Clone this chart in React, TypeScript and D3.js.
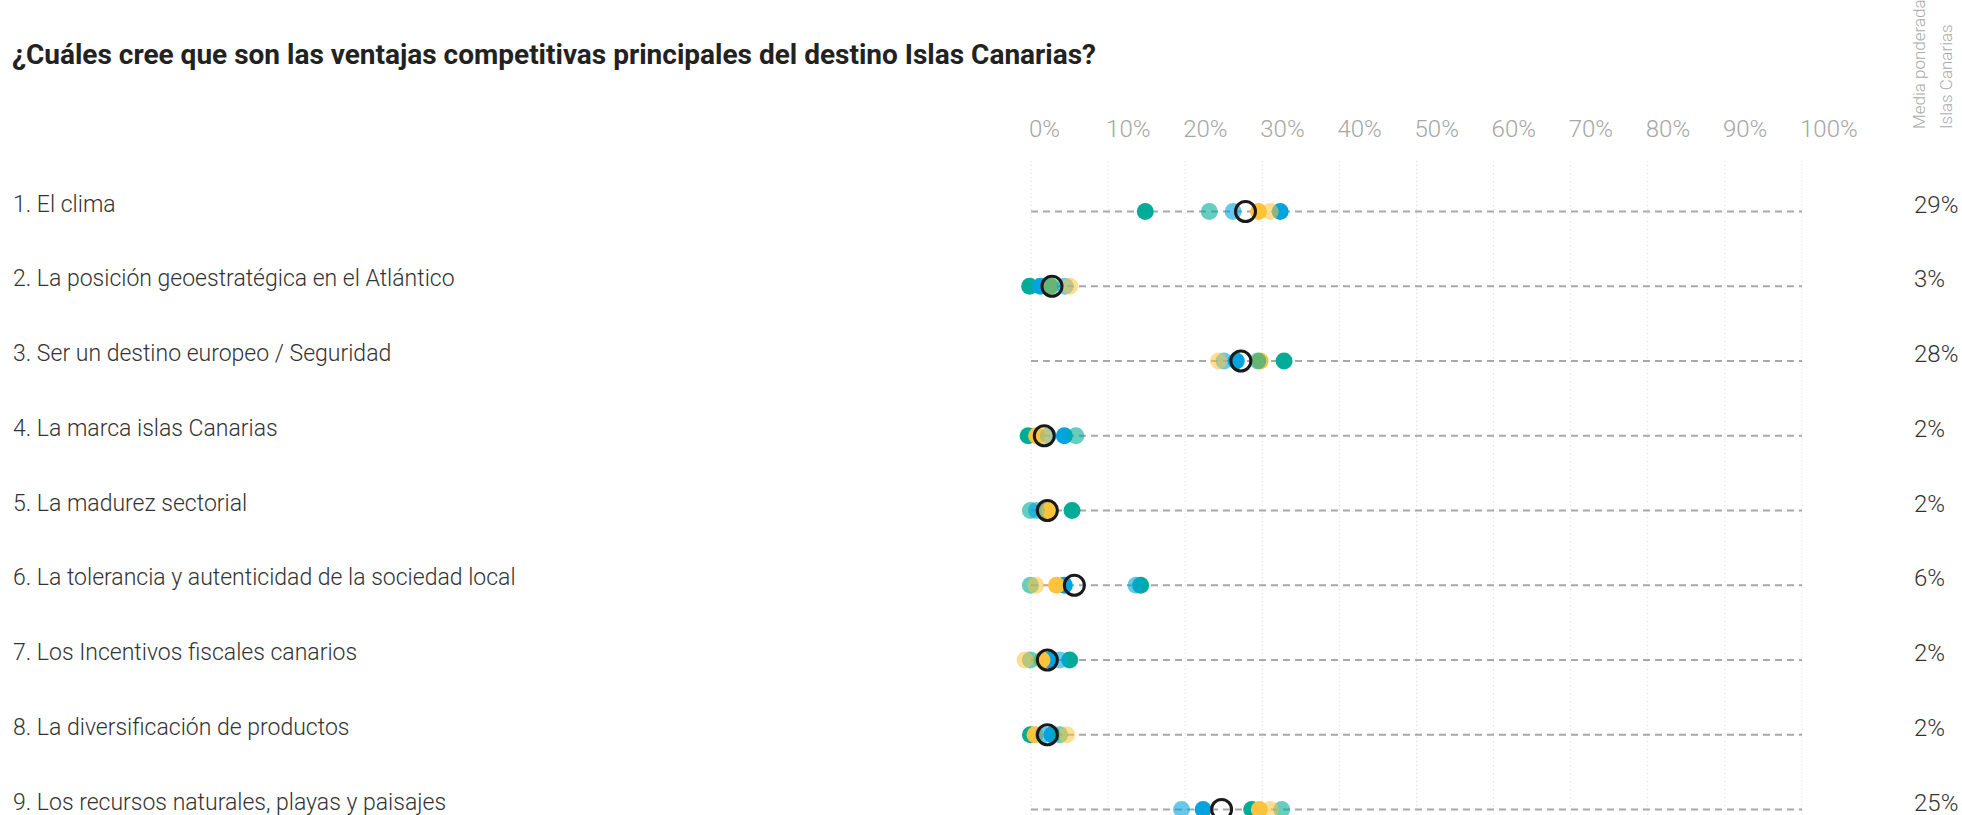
import React from "react";
import * as d3 from "d3";

const categories = [
  "1. El clima",
  "2. La posición geoestratégica en el Atlántico",
  "3. Ser un destino europeo / Seguridad",
  "4. La marca islas Canarias",
  "5. La madurez sectorial",
  "6. La tolerancia y autenticidad de la sociedad local",
  "7. Los Incentivos fiscales canarios",
  "8. La diversificación de productos",
  "9. Los recursos naturales, playas y paisajes",
];

const weightedLabels = ["29%", "3%", "28%", "2%", "2%", "6%", "2%", "2%", "25%"];
const weightedMean = [28.6, 3.5, 28.0, 2.5, 2.9, 6.4, 2.9, 2.9, 25.5];

// one value per category
const tealSolid = [15.6, 0.6, 33.6, 0.4, 6.1, 15.0, 5.8, 0.7, 29.4];
const blueSolid = [33.1, 2.0, 27.4, 5.1, 2.4, 5.1, 3.2, 3.5, 23.1];
const yellowSolid = [30.3, 3.2, 30.5, 1.5, 3.2, 4.1, 2.2, 1.3, 30.4];
const tealLight = [23.9, 3.4, 30.2, 6.6, 0.7, 0.7, 0.7, 4.5, 33.3];
const blueLight = [27.0, 5.2, 25.8, 3.0, 1.5, 14.4, 4.5, 2.4, 20.3];
const yellowLight = [31.8, 5.8, 25.1, 2.4, 2.8, 1.4, 0.0, 5.4, 31.8];

const tickValues = [0, 10, 20, 30, 40, 50, 60, 70, 80, 90, 100];

const series = [
  { key: "tealSolid", values: tealSolid, color: "#00ac98", opacity: 1 },
  { key: "blueSolid", values: blueSolid, color: "#00a5df", opacity: 1 },
  { key: "yellowSolid", values: yellowSolid, color: "#ffc33b", opacity: 1 },
  { key: "tealLight", values: tealLight, color: "#00ac98", opacity: 0.6 },
  { key: "blueLight", values: blueLight, color: "#00a5df", opacity: 0.6 },
  { key: "yellowLight", values: yellowLight, color: "#ffc33b", opacity: 0.55 },
];

const W = 1962;
const H = 815;
const FONT = "Roboto, 'Open Sans', sans-serif";

export default function App() {
  const x = d3.scaleLinear().domain([0, 100]).range([1025, 1796]);
  const tickOffset = 6; // grid sits slightly right of the dot zero
  const y = d3.scalePoint<string>().domain(categories).range([211.5, 809.5]);

  return (
    <svg
      width={W}
      height={H}
      style={{ position: "absolute", left: 0, top: 0, background: "#fff" }}
      fontFamily={FONT}
    >
      {/* title */}
      <text x={12} y={64} fontSize={28} fontWeight={700} fill="#222">
        ¿Cuáles cree que son las ventajas competitivas principales del destino Islas Canarias?
      </text>

      {/* header of the right column */}
      <g transform="translate(1924.5,129) rotate(-90)" fill="#aaa" fontSize={17} fontWeight={300}>
        <text x={0} y={0}>Media ponderada</text>
        <text x={0} y={27}>Islas Canarias</text>
      </g>

      {/* vertical dotted grid + tick labels */}
      {tickValues.map((t) => (
        <g key={t}>
          <line
            x1={x(t) + tickOffset}
            x2={x(t) + tickOffset}
            y1={161}
            y2={H}
            stroke="#dcdcdc"
            strokeWidth={1}
            strokeDasharray="1,3"
          />
          <text
            x={x(t) + tickOffset - 2}
            y={137}
            fontSize={24}
            fontWeight={300}
            fill="#a6a6a6"
          >
            {t}%
          </text>
        </g>
      ))}

      {categories.map((c, i) => {
        const cy = y(c)!;
        return (
          <g key={c}>
            <text x={13} y={cy} fontSize={23} fontWeight={300} fill="#333">
              {c}
            </text>
            <line
              x1={x(0) + tickOffset}
              x2={x(100) + tickOffset}
              y1={cy}
              y2={cy}
              stroke="#a8a8a8"
              strokeWidth={2}
              strokeDasharray="7,5"
            />
            {series.map((s) => (
              <circle
                key={s.key}
                cx={x(s.values[i])}
                cy={cy}
                r={8.5}
                fill={s.color}
                fillOpacity={s.opacity}
              />
            ))}
            <circle
              cx={x(weightedMean[i])}
              cy={cy}
              r={10}
              fill="none"
              stroke="#1a1a1a"
              strokeWidth={3}
            />
            <text x={1914} y={cy + 1} fontSize={24} fontWeight={300} fill="#333">
              {weightedLabels[i]}
            </text>
          </g>
        );
      })}
    </svg>
  );
}
